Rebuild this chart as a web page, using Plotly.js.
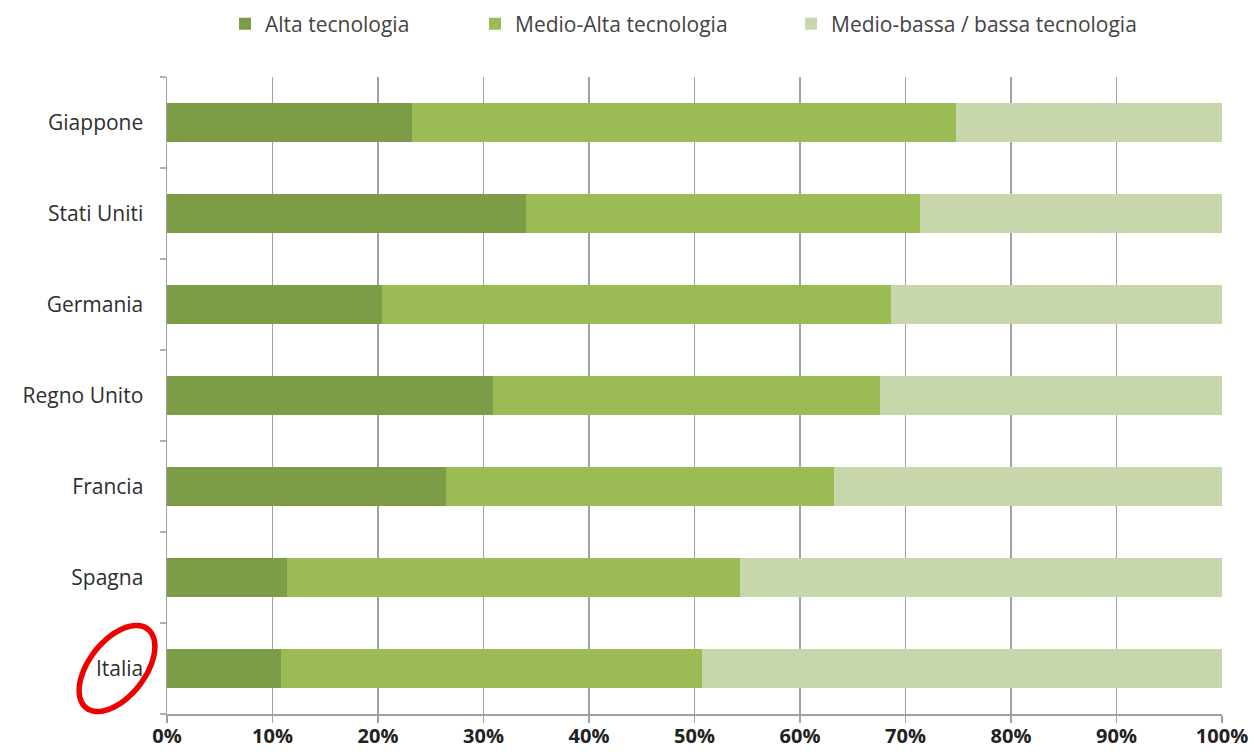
<!DOCTYPE html>
<html>
<head>
<meta charset="utf-8">
<script src="https://cdn.plot.ly/plotly-3.0.1.min.js"></script>
<style>html,body{margin:0;padding:0;background:#fff;}#chart{width:1254px;height:756px;}</style>
</head>
<body>
<div id="chart"></div>
<script>
// Data (shares in %)
const countries = ["Italia", "Spagna", "Francia", "Regno Unito", "Germania", "Stati Uniti", "Giappone"];
const altaTec = [10.8, 11.4, 26.4, 30.9, 20.4, 34.0, 23.2];
const medioAltaTec = [39.9, 42.9, 36.8, 36.7, 48.2, 37.4, 51.6];
const medioBassaTec = [49.3, 45.7, 36.8, 32.4, 31.4, 28.6, 25.2];
const seriesNames = ["Alta tecnologia", "Medio-Alta tecnologia", "Medio-bassa / bassa tecnologia"];
const tickVals = [0, 10, 20, 30, 40, 50, 60, 70, 80, 90, 100];
const tickText = ["0%", "10%", "20%", "30%", "40%", "50%", "60%", "70%", "80%", "90%", "100%"];
const highlighted = "Italia";

const colors = ["#7d9c48", "#9bbb55", "#c8d6ac"];
const seriesVals = [altaTec, medioAltaTec, medioBassaTec];
const legendIds = ["legend", "legend2", "legend3"];

const traces = seriesVals.map((v, i) => ({
  type: "bar",
  orientation: "h",
  name: seriesNames[i],
  y: countries,
  x: v,
  legend: legendIds[i],
  marker: {color: colors[i], line: {width: 0}},
  hoverinfo: "x+y+name"
}));

const W = 1254, H = 756;
const m = {l: 167, r: 32, t: 77, b: 42, autoexpand: false};
const pw = W - m.l - m.r, ph = H - m.t - m.b;

// Red ellipse around the highlighted label (pixel geometry -> paper coords)
const idx = countries.indexOf(highlighted);
const catStep = ph / countries.length;
const cy = m.t + ph - (idx + 0.5) * catStep;
const cx = 117;
const a = 50, b = 28, th = 52 * Math.PI / 180;
let path = "";
for (let k = 0; k <= 72; k++) {
  const t = 2 * Math.PI * k / 72;
  const px = cx + a * Math.cos(t) * Math.cos(th) - b * Math.sin(t) * Math.sin(th);
  const py = cy - (a * Math.cos(t) * Math.sin(th) + b * Math.sin(t) * Math.cos(th));
  const X = (px - m.l) / pw, Y = (H - m.b - py) / ph;
  path += (k === 0 ? "M" : "L") + X.toFixed(5) + "," + Y.toFixed(5);
}
path += "Z";

// legend text start positions (px) in the reference
const legendTextX = [262, 512, 828];
const legendFont = {size: 21, color: "#444", family: "Open Sans, sans-serif"};
const mkLegend = (px) => ({
  orientation: "h",
  xref: "container", yref: "container",
  x: (px - 37) / W, xanchor: "left",
  y: 1 - 24 / H, yanchor: "middle",
  font: legendFont,
  itemwidth: 30,
  bgcolor: "rgba(0,0,0,0)",
  borderwidth: 0
});

const layout = {
  width: W, height: H,
  margin: m,
  paper_bgcolor: "#ffffff",
  plot_bgcolor: "#ffffff",
  barmode: "stack",
  bargap: 0.58,
  font: {family: "Open Sans, DejaVu Sans, sans-serif", color: "#333"},
  showlegend: true,
  legend: mkLegend(legendTextX[0]),
  legend2: mkLegend(legendTextX[1]),
  legend3: mkLegend(legendTextX[2]),
  xaxis: {
    range: [0, 100],
    tickvals: tickVals,
    ticktext: tickText,
    showgrid: true,
    gridcolor: "#a0a0aa",
    gridwidth: 1.5,
    zeroline: false,
    showline: true,
    linecolor: "#a0a0aa",
    linewidth: 1.5,
    ticks: "outside",
    ticklen: 7,
    tickwidth: 1.5,
    tickcolor: "#a0a0aa",
    tickfont: {size: 20, color: "#222", family: "Open Sans, sans-serif", weight: "bold"},
    ticklabelstandoff: -4,
    fixedrange: true
  },
  yaxis: {
    type: "category",
    categoryorder: "array",
    categoryarray: countries,
    showgrid: false,
    showline: true,
    linecolor: "#a0a0aa",
    linewidth: 1.5,
    ticks: "outside",
    tickson: "boundaries",
    ticklen: 6,
    tickwidth: 1.5,
    tickcolor: "#b0b0b8",
    tickfont: {size: 21, color: "#2e2e2e", family: "Open Sans, sans-serif"},
    ticklabelstandoff: 18,
    fixedrange: true
  },
  shapes: [{
    type: "path",
    xref: "paper", yref: "paper",
    path: path,
    line: {color: "#ee0000", width: 5.5},
    fillcolor: "rgba(0,0,0,0)",
    layer: "above"
  }]
};

Plotly.newPlot("chart", traces, layout, {displayModeBar: false, staticPlot: true});
</script>
</body>
</html>
